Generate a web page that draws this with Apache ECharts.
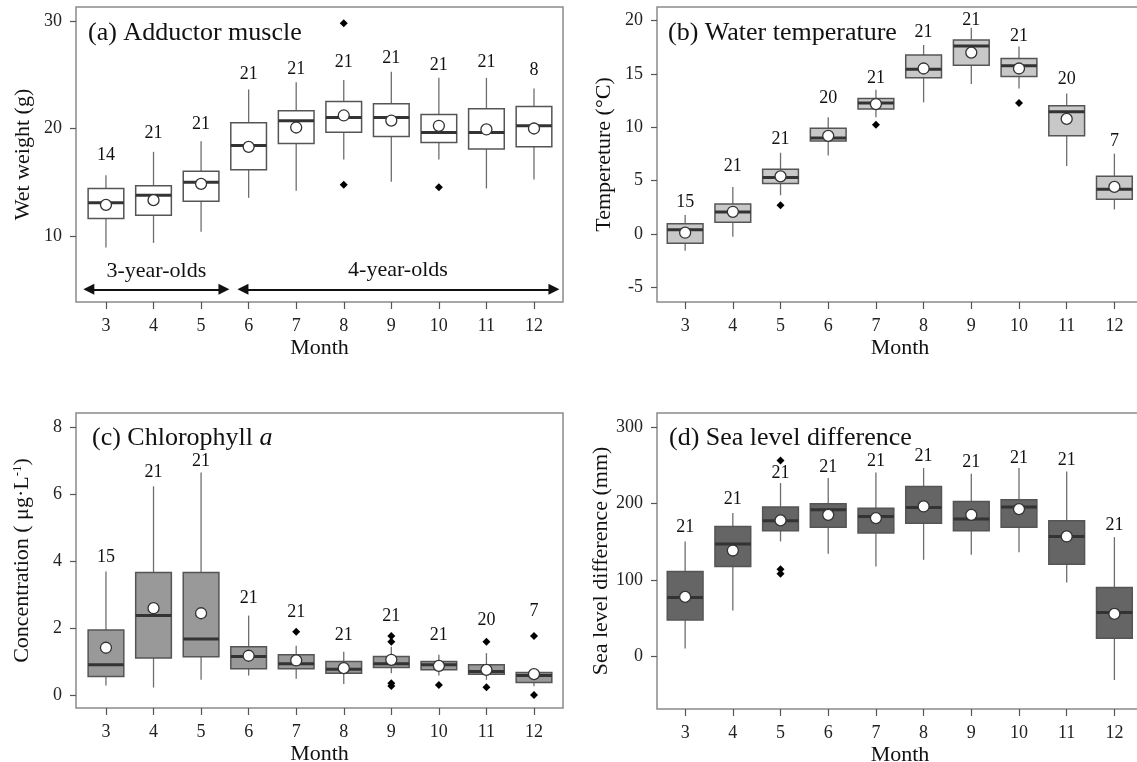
<!DOCTYPE html>
<html lang="en">
<head>
<meta charset="UTF-8">
<title>Monthly boxplots</title>
<script src="https://cdn.jsdelivr.net/npm/echarts@6.0.0/dist/echarts.min.js"></script>
<style>
    html, body { margin: 0; padding: 0; background: #fff; }
    #main { width: 1137px; height: 762px; }
</style>
</head>
<body>
<div id="main"></div>
<script>
var months = [3, 4, 5, 6, 7, 8, 9, 10, 11, 12];

// (a) adductor muscle wet weight (g): [min, Q1, median, Q3, max]
var muscleBox = [
    [8.93, 11.63, 13.09, 14.42, 15.66],
    [9.36, 11.94, 13.80, 14.67, 17.83],
    [10.39, 13.24, 15.00, 16.03, 18.82],
    [13.55, 16.16, 18.42, 20.53, 23.63],
    [14.20, 18.60, 20.71, 21.64, 24.31],
    [17.12, 19.66, 21.02, 22.51, 24.50],
    [15.04, 19.26, 21.02, 22.29, 25.27],
    [17.12, 18.70, 19.63, 21.30, 24.71],
    [14.42, 18.08, 19.63, 21.83, 24.71],
    [15.26, 18.29, 20.25, 22.05, 23.72]
];
var muscleMean = [12.9, 13.33, 14.85, 18.29, 20.09, 21.21, 20.74, 20.25, 19.91, 20.0];
var muscleN = [14, 21, 21, 21, 21, 21, 21, 21, 21, 8];
var muscleNY = [17.5, 19.6, 20.4, 25.0, 25.5, 26.2, 26.5, 25.9, 26.2, 25.4];
var muscleOut = [[8, 29.8], [8, 14.76], [10, 14.54]];

// (b) water temperature (degC)
var tempBox = [
    [-1.58, -0.87, 0.40, 0.96, 1.77],
    [-0.25, 1.09, 2.05, 2.80, 4.41],
    [3.63, 4.72, 5.28, 6.06, 7.61],
    [7.36, 8.70, 9.00, 9.91, 10.93],
    [10.93, 11.71, 12.27, 12.70, 13.51],
    [12.33, 14.63, 15.43, 16.77, 17.70],
    [14.04, 15.80, 17.60, 18.17, 19.32],
    [13.63, 14.75, 15.75, 16.43, 17.55],
    [6.37, 9.19, 11.46, 12.02, 13.17],
    [2.30, 3.26, 4.19, 5.40, 7.52]
];
var tempMean = [0.12, 2.08, 5.4, 9.19, 12.17, 15.5, 16.99, 15.5, 10.78, 4.41];
var tempN = [15, 21, 21, 20, 21, 21, 21, 21, 20, 7];
var tempNY = [2.95, 6.37, 8.85, 12.7, 14.6, 18.9, 20.0, 18.5, 14.5, 8.66];
var tempOut = [[5, 2.7], [7, 10.22], [10, 12.27]];

// (c) chlorophyll a (ug/L)
var chlBox = [
    [0.28, 0.55, 0.90, 1.94, 3.69],
    [0.22, 1.10, 2.37, 3.66, 6.23],
    [0.45, 1.14, 1.67, 3.66, 6.64],
    [0.58, 0.78, 1.15, 1.44, 2.37],
    [0.48, 0.78, 0.93, 1.20, 1.47],
    [0.33, 0.65, 0.77, 1.00, 1.29],
    [0.65, 0.82, 0.93, 1.15, 1.44],
    [0.58, 0.75, 0.90, 1.00, 1.20],
    [0.45, 0.62, 0.70, 0.90, 1.25],
    [0.26, 0.37, 0.58, 0.67, 0.68]
];
var chlMean = [1.41, 2.59, 2.44, 1.17, 1.03, 0.8, 1.05, 0.87, 0.75, 0.62];
var chlN = [15, 21, 21, 21, 21, 21, 21, 21, 20, 7];
var chlNY = [4.11, 6.65, 6.97, 2.89, 2.46, 1.79, 2.36, 1.79, 2.24, 2.49];
var chlOut = [[7, 1.89], [9, 1.76], [9, 1.59], [9, 0.35], [9, 0.27], [10, 0.3],
    [11, 1.59], [11, 0.23], [12, 1.76], [12, 0.0]];

// (d) sea level difference (mm)
var seaBox = [
    [10.5, 48.0, 77.2, 111.2, 150.5],
    [60.2, 117.7, 147.0, 170.0, 187.5],
    [150.5, 164.4, 177.5, 195.4, 226.8],
    [134.3, 169.2, 191.9, 199.7, 233.3],
    [117.7, 161.4, 183.2, 194.0, 240.7],
    [126.5, 174.4, 194.9, 222.4, 246.4],
    [133.0, 164.4, 179.7, 202.8, 239.0],
    [136.5, 169.2, 195.4, 205.0, 246.4],
    [96.8, 120.8, 157.0, 177.5, 242.0],
    [-30.5, 24.0, 57.6, 90.3, 156.1]
];
var seaMean = [78.0, 138.7, 178.0, 185.3, 181.0, 196.2, 185.3, 192.8, 157.0, 55.8];
var seaN = [21, 21, 21, 21, 21, 21, 21, 21, 21, 21];
var seaNY = [169, 205, 240, 248, 255, 262, 254, 259, 257, 172];
var seaOut = [[5, 256.4], [5, 114.3], [5, 108.2]];

var yTicksA = [10, 20, 30];
var yTicksB = [-5, 0, 5, 10, 15, 20];
var yTicksC = [0, 2, 4, 6, 8];
var yTicksD = [0, 100, 200, 300];

var FONT = "'Liberation Serif', 'DejaVu Serif', serif";

var myChart = echarts.init(document.getElementById('main'));

function boxRenderer(fill) {
    return function (params, api) {
        var x = api.value(0);
        var lo = api.coord([x, api.value(1)]);
        var q1 = api.coord([x, api.value(2)]);
        var md = api.coord([x, api.value(3)]);
        var q3 = api.coord([x, api.value(4)]);
        var hi = api.coord([x, api.value(5)]);
        var half = api.size([1, 0])[0] * 0.375;
        return {
            type: 'group',
            children: [
                {type: 'line', shape: {x1: lo[0], y1: lo[1], x2: hi[0], y2: hi[1]},
                    style: {stroke: '#6e6e6e', lineWidth: 1.3}},
                {type: 'rect', shape: {x: q3[0] - half, y: q3[1], width: half * 2, height: q1[1] - q3[1]},
                    style: {fill: fill, stroke: '#555', lineWidth: 1.5}},
                {type: 'line', shape: {x1: md[0] - half, y1: md[1], x2: md[0] + half, y2: md[1]},
                    style: {stroke: '#333', lineWidth: 3}}
            ]
        };
    };
}

// all series for one panel
function panelSeries(gi, fill, box, mean, n, ny, outliers) {
    return [
        {
            type: 'custom', xAxisIndex: gi, yAxisIndex: gi,
            renderItem: boxRenderer(fill),
            encode: {x: 0, y: [1, 2, 3, 4, 5]},
            data: months.map(function (m, i) { return [m].concat(box[i]); }),
            z: 2
        },
        {
            type: 'scatter', xAxisIndex: gi, yAxisIndex: gi,
            symbol: 'diamond', symbolSize: 8,
            itemStyle: {color: '#000', opacity: 1},
            data: outliers, z: 3
        },
        {
            type: 'scatter', xAxisIndex: gi, yAxisIndex: gi,
            symbol: 'circle', symbolSize: 11,
            itemStyle: {color: '#fff', borderColor: '#333', borderWidth: 1.3, opacity: 1},
            data: months.map(function (m, i) { return [m, mean[i]]; }), z: 4
        },
        {
            type: 'scatter', xAxisIndex: gi, yAxisIndex: gi,
            symbolSize: 0,
            itemStyle: {opacity: 1},
            label: {
                show: true, position: 'inside', fontSize: 18, color: '#111', fontFamily: FONT,
                formatter: function (p) { return p.value[2]; }
            },
            data: months.map(function (m, i) { return [m, ny[i], n[i]]; }), z: 5
        }
    ];
}

var grids = [
    {left: 76, top: 7, width: 487, height: 295},
    {left: 657, top: 7, width: 486, height: 295},
    {left: 76, top: 413, width: 487, height: 295},
    {left: 657, top: 413, width: 486, height: 296}
];
grids.forEach(function (g) {
    g.show = true;
    g.borderColor = '#8a8a8a';
    g.borderWidth = 1.5;
    g.containLabel = false;
    g.outerBoundsMode = 'none';
});

function xAxisFor(gi, min, max) {
    return {
        type: 'value', gridIndex: gi, min: min, max: max,
        name: 'Month', nameLocation: 'middle', nameGap: 35,
        nameTextStyle: {fontSize: 22, color: '#111', fontFamily: FONT},
        axisLine: {show: false, onZero: false},
        axisTick: {show: true, customValues: months, length: 7, lineStyle: {color: '#555', width: 1.2}},
        axisLabel: {customValues: months, margin: 15, fontSize: 18, color: '#222', fontFamily: FONT},
        splitLine: {show: false}
    };
}

function yAxisFor(gi, min, max, ticks, name) {
    return {
        type: 'value', gridIndex: gi, min: min, max: max,
        name: name, nameLocation: 'middle', nameGap: 42,
        nameTextStyle: {
            fontSize: 22, color: '#111', fontFamily: FONT,
            rich: {sup: {fontSize: 13, fontFamily: FONT, color: '#111', padding: [0, 0, 10, 0]}}
        },
        axisLine: {show: false, onZero: false},
        axisTick: {show: true, customValues: ticks, length: 6, lineStyle: {color: '#555', width: 1.2}},
        axisLabel: {customValues: ticks, margin: 14, fontSize: 18, color: '#222', fontFamily: FONT},
        splitLine: {show: false}
    };
}

var titleStyle = {fontFamily: FONT, fontSize: 26, fontWeight: 'normal', color: '#111',
    rich: {i: {fontFamily: FONT, fontSize: 26, fontStyle: 'italic', color: '#111'}}};

var series = []
    .concat(panelSeries(0, '#ffffff', muscleBox, muscleMean, muscleN, muscleNY, muscleOut))
    .concat(panelSeries(1, '#c8c8c8', tempBox, tempMean, tempN, tempNY, tempOut))
    .concat(panelSeries(2, '#999999', chlBox, chlMean, chlN, chlNY, chlOut))
    .concat(panelSeries(3, '#656565', seaBox, seaMean, seaN, seaNY, seaOut));

// age group arrows and labels in panel (a)
series.push({
    type: 'scatter', xAxisIndex: 0, yAxisIndex: 0,
    symbolSize: 0,
    itemStyle: {opacity: 1},
    label: {show: true, position: 'inside', fontSize: 22, color: '#111', fontFamily: FONT,
        formatter: function (p) { return p.name; }},
    data: [{name: '3-year-olds', value: [4.06, 6.7]}, {name: '4-year-olds', value: [9.14, 6.8]}],
    markLine: {
        silent: true,
        symbol: ['triangle', 'triangle'],
        symbolSize: 11,
        label: {show: false},
        lineStyle: {color: '#111', width: 2, type: 'solid', opacity: 1},
        data: [
            [{coord: [2.64, 5.04]}, {coord: [5.48, 5.04]}],
            [{coord: [5.88, 5.04]}, {coord: [12.42, 5.04]}]
        ]
    }
});

var option = {
    animation: false,
    textStyle: {fontFamily: FONT},
    title: [
        {text: '(a) Adductor muscle', left: 88, top: 20, padding: 0, textStyle: titleStyle},
        {text: '(b) Water temperature', left: 668, top: 20, padding: 0, textStyle: titleStyle},
        {text: '(c) Chlorophyll {i|a}', left: 92, top: 425, padding: 0, textStyle: titleStyle},
        {text: '(d) Sea level difference', left: 669, top: 425, padding: 0, textStyle: titleStyle}
    ],
    grid: grids,
    xAxis: [
        xAxisFor(0, 2.37, 12.61),
        xAxisFor(1, 2.41, 12.6),
        xAxisFor(2, 2.37, 12.61),
        xAxisFor(3, 2.41, 12.6)
    ],
    yAxis: [
        yAxisFor(0, 3.86, 31.3, yTicksA, 'Wet weight (g)'),
        yAxisFor(1, -6.37, 21.26, yTicksB, 'Tempereture (°C)'),
        yAxisFor(2, -0.39, 8.42, yTicksC, 'Concentration ( μg·L{sup|-1})'),
        yAxisFor(3, -68.4, 318.3, yTicksD, 'Sea level difference (mm)')
    ],
    series: series
};

myChart.setOption(option);
</script>
</body>
</html>
